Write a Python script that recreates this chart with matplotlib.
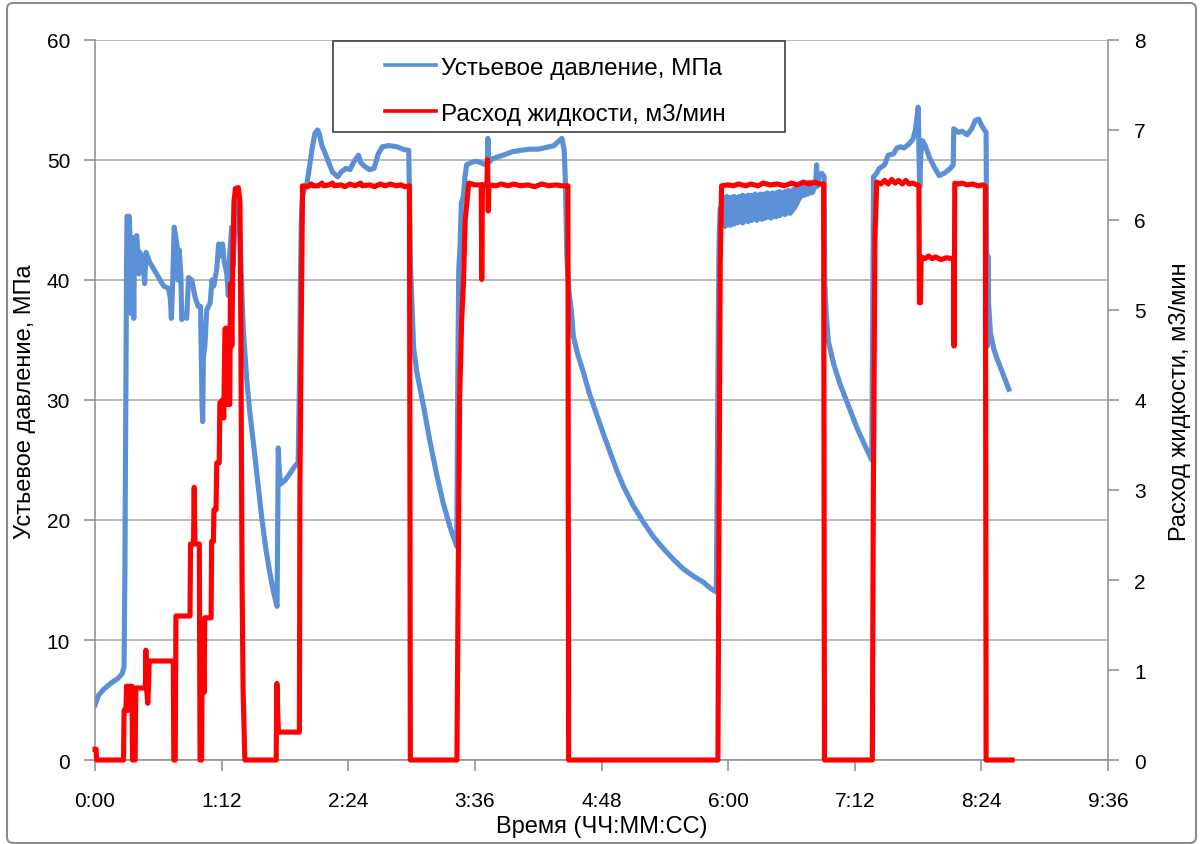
import matplotlib.pyplot as plt
import numpy as np
from matplotlib.patches import Rectangle, FancyBboxPatch
from matplotlib.lines import Line2D

plt.rcParams['font.family'] = ['Liberation Sans', 'DejaVu Sans']
plt.rcParams['path.simplify'] = False

# --- data (time in minutes) ---
# wellhead pressure, MPa
p_time = [0, 2, 5, 9, 13, 15.5, 16.5, 17.0, 17.3, 17.6, 17.9, 18.2, 19.5, 20.2, 20.6, 21.0,
          21.5, 22.0, 22.5, 23.7, 24.5, 25.0, 25.5, 27.5, 28.2, 29.0, 31, 35, 39, 41.7,
          42.8, 43.4, 44.2, 45.0, 46.5, 47.2, 47.8, 48.8, 49.3, 50.5, 52.1, 53.2, 55, 57,
          58.7, 60, 60.8, 61.2, 61.6, 62.5, 63.5, 65.5, 66.5, 67.5, 69.2, 70.3, 71.0, 72.5,
          73.5, 74.9, 75.8, 76.6, 77.7, 78.5, 79.4, 80.5, 81.5, 82.5, 83.5, 84.3, 86.2, 88,
          90, 92.5, 94.8, 97, 99.5, 101.5, 103.5, 103.9, 104.2, 104.6, 105.5, 108, 110,
          113.7, 115.5, 116.3, 116.8, 117.3, 118, 119, 120.5, 122, 123.5, 125, 126.5, 127.5,
          129, 131, 132.3, 135, 138, 140, 142.7, 145, 147, 149.8, 151, 153, 156, 158.7, 161,
          163.4, 167, 171.8, 175, 178.4, 179.0, 179.3, 180.2, 181.2, 183, 186.9, 190.5,
          194.4, 198, 201.9, 204, 205.7, 206.2, 206.8, 207.6, 208.3, 209.5, 210.3, 211.3,
          214, 216.5, 219, 222, 223.0, 223.4, 223.9, 226, 230, 234, 237.6, 242, 247, 252,
          258.3, 261, 263.9, 265.5, 266.8, 267.5, 268.3, 269.5, 270.8, 272, 274.5, 277.7,
          281, 285, 289, 293, 296.5, 300.5, 306, 311.9, 317.5, 323.3, 329, 334.7, 340.5,
          346.1, 350, 353.3, 353.9, 354.4, 354.9, 355.5,
          408.5, 409.8, 410.3, 410.8, 411.6, 413.2, 414.6, 415.0, 415.8, 417, 420, 423.7,
          428.5, 433.2, 437.5, 441.7, 442.2, 442.7, 444, 446, 449, 451, 454, 456, 458,
          460, 462.6, 465, 466.5, 468.1, 468.6, 469.0, 469.6, 470.5, 472.1, 474.5, 476.9,
          480, 483, 486.4, 488.0, 488.3, 491, 493, 495.9, 498.5, 500.6, 502.5, 504.4,
          506.7, 507.1, 507.4, 507.7, 508.1, 509.2, 511, 513, 516.5, 519.6]
p_val = [4.6, 5.4, 5.9, 6.4, 6.8, 7.2, 7.8, 16, 25, 32, 41, 45.3, 45.3, 42, 37.2, 43.5,
         43.2, 36.8, 43.5, 43.7, 42.0, 40.5, 42.3, 41.5, 39.7, 42.3, 41.5, 40.5, 39.5, 39.3,
         38.5, 36.8, 40, 44.4, 43.0, 40, 42.5, 40.5, 36.7, 37.2, 36.8, 40.2, 40, 38.5,
         37.8, 37.8, 30, 28.2, 33.5, 34.6, 37.5, 38.1, 40.0, 39.5, 40.9, 43, 42.0, 43.0,
         41.5, 40.6, 38.7, 42.2, 44.4, 41.2, 44.0, 46.0, 46.5, 43.5, 39.0, 35.9, 31.8, 29,
         26.5, 23.2, 20.2, 17.7, 15.5, 14, 12.8, 20, 26.0, 24.5, 23.0, 23.3, 23.7,
         24.5, 24.8, 32, 40, 45, 47, 47.5, 48, 49.5, 51, 52.2, 52.5, 52.2,
         51.2, 50.5, 50, 49, 48.6, 49, 49.3, 49.2, 49.8, 50.4, 49.8, 49.5, 49.2, 49.3, 50.5,
         51.1, 51.2, 51.1, 50.9, 50.8, 45, 41.5, 38, 34.3, 32.3, 29.4, 26.5,
         23.7, 21.4, 19.4, 18.5, 17.8, 30, 40.7, 43, 46.4, 47, 48.5, 49.6,
         49.8, 49.9, 49.8, 49.6, 49.7, 51.8, 49.8, 50.1, 50.3, 50.5, 50.7, 50.8, 50.9, 50.9,
         51.1, 51.2, 51.6, 51.8, 50.8, 48, 42, 39, 37.5, 35.3, 33.8, 32.3,
         30.6, 28.9, 27.2, 25.6, 24.2, 22.8, 21.2, 19.8, 18.6, 17.6, 16.7, 15.9, 15.3,
         14.8, 14.3, 14.0, 25, 36, 43.5, 46.0,
         47.6, 47.8, 49.6, 47.8, 48.6, 48.9, 48.6, 39.6, 37, 34.9, 33, 31.3,
         29.5, 27.7, 26.3, 25.0, 36, 48.6, 48.8, 49.3, 49.6, 50.4, 50.5, 51.0, 51.1,
         51.0, 51.3, 51.7, 52.5, 54.4, 50, 47.8, 50.5, 51.6, 51.2, 50.2, 49.5,
         48.7, 48.9, 49.3, 49.6, 52.6, 52.3, 52.4, 52.1, 52.6, 53.3, 53.4, 52.8,
         52.3, 40, 34.5, 42, 38, 35.6, 34.3, 33.4, 32.1, 30.9]

# pressure oscillated fast during the 6:00-6:50 stage: upper / lower edges of that ribbon
band_time = [356.0, 357, 358, 359, 360, 361, 362, 363, 364, 365, 366, 367, 368, 369, 370,
             371, 372, 373, 374, 375, 376, 377, 378, 379, 380, 381, 382, 383, 384, 385, 386,
             387, 388, 389, 390, 391, 392, 393, 394, 395, 396, 397, 398, 399, 400, 401, 402,
             403, 404, 405, 406, 407, 408.0]
band_high = [46.6, 46.9, 46.7, 47.0, 46.8, 46.9, 46.7, 47.0, 46.9, 46.8, 47.0, 46.9, 47.1,
             46.8, 47.0, 47.1, 46.9, 47.1, 47.0, 47.2, 47.0, 47.1, 47.2, 47.0, 47.2, 47.1,
             47.3, 47.1, 47.2, 47.3, 47.1, 47.3, 47.2, 47.4, 47.2, 47.3, 47.4, 47.3, 47.5,
             47.3, 47.4, 47.6, 47.4, 47.8, 47.6, 47.9, 48.0, 47.8, 48.1, 48.0, 48.2, 48.0,
             48.1]
band_low = [44.6, 44.8, 44.5, 44.7, 44.9, 44.6, 44.8, 44.7, 45.0, 44.8, 44.9, 45.1, 44.8,
            45.0, 45.2, 44.9, 45.1, 45.0, 45.2, 45.3, 45.0, 45.2, 45.4, 45.1, 45.3, 45.2,
            45.4, 45.5, 45.2, 45.4, 45.6, 45.3, 45.5, 45.4, 45.6, 45.7, 45.5, 45.6, 45.8,
            45.6, 45.8, 46.0, 46.2, 46.5, 46.8, 47.0, 47.2, 47.1, 47.3, 47.2, 47.4, 47.3,
            47.4]

# fluid flow rate, m3/min
f_time = [0, 0.6, 0.9, 16.2, 16.5, 17.6, 17.9, 18.6, 19.2, 19.8, 20.4, 21.0, 21.3, 22.8,
          23.2, 28.6, 28.9, 29.3, 30.0, 30.4, 30.8, 44.5, 44.8, 45.6, 46.0, 54.0, 54.3,
          56.0, 56.4, 56.8, 59.3, 59.7, 60.6, 61.0, 62.0, 62.4, 66.0, 66.3, 67.3, 67.6,
          68.8, 69.2, 70.6, 71.0, 72.5, 73.2, 73.9, 74.6, 75.1, 76.6, 77.0, 77.8, 78.4,
          79.0, 79.8, 81.5, 82.4, 82.9, 83.6, 84.2, 85.2, 103.0, 103.4, 103.9, 104.3,
          116.2, 116.5, 117.3, 118.0, 121, 123, 124, 127, 129, 130, 133, 135, 136, 140,
          142, 145, 148, 151, 152, 156, 159, 162, 165, 168, 171, 174, 176, 178.8, 179.3,
          205.8, 206.5, 207.3, 208.5, 209.5, 210.5, 212.5, 216, 219.6, 219.9, 220.3, 222.8,
          223.2, 223.6, 224.0, 228, 231, 235, 238, 242, 246, 250, 254, 258, 262, 265,
          268.9, 269.3, 354.2, 354.8, 355.5, 356.3, 360, 363, 366, 370, 373, 377, 380,
          384, 388, 392, 396, 399, 403, 406, 409, 412, 414.3, 414.8, 442.0, 442.6, 443.5,
          444.5, 447, 449, 451, 453, 455, 457, 459, 461, 463, 465, 468.5, 468.8, 469.3,
          469.8, 472, 474, 476, 478, 481, 484, 488.2, 488.5, 488.9, 491, 493, 496, 499,
          502, 505, 506.3, 506.7, 521.5]
f_val = [0.12, 0.12, 0, 0, 0.55, 0.57, 0.82, 0.55, 0.82, 0.6, 0.82, 0.82, 0, 0,
         0.8, 0.8, 1.22, 0.8, 0.63, 0.82, 1.1, 1.1, 0, 0, 1.6, 1.6, 2.4,
         2.4, 3.03, 2.4, 2.4, 0, 0, 1.55, 0.75, 1.58, 1.58, 2.43, 2.43, 2.78,
         2.78, 3.3, 3.3, 3.97, 4.0, 3.8, 4.79, 4.8, 3.95, 3.95, 5.29, 4.6, 5.6,
         6.2, 6.35, 6.36, 6.2, 4.8, 2.0, 0.77, 0, 0, 0.85, 0.5, 0.31,
         0.31, 3.0, 4.9, 6.38, 6.37, 6.40, 6.38, 6.38, 6.41, 6.38, 6.39, 6.41, 6.38, 6.39,
         6.37, 6.40, 6.38, 6.41, 6.38, 6.39, 6.37, 6.40, 6.38, 6.40, 6.38, 6.39, 6.37, 6.38, 0,
         0, 2.0, 4.0, 4.9, 5.3, 6.0, 6.41, 6.39, 6.39, 5.34, 6.39, 6.38,
         6.67, 6.1, 6.39, 6.38, 6.40, 6.38, 6.40, 6.38, 6.39, 6.37, 6.40, 6.38, 6.39, 6.38,
         6.38, 0, 0, 2.6, 5.5, 6.38, 6.39, 6.38, 6.40, 6.38, 6.40, 6.38, 6.41,
         6.39, 6.40, 6.38, 6.41, 6.39, 6.42, 6.40, 6.42, 6.40, 6.4, 0, 0, 3.0, 5.8,
         6.42, 6.40, 6.44, 6.40, 6.45, 6.41, 6.44, 6.40, 6.44, 6.40, 6.41, 6.38, 5.08, 5.08,
         5.59, 5.57, 5.60, 5.57, 5.59, 5.56, 5.58, 5.57, 4.6, 6.41, 6.40, 6.41, 6.39, 6.40,
         6.38, 6.39, 6.37, 0, 0]

x_ticks = [0, 72, 144, 216, 288, 360, 432, 504, 576]
x_labels = [f"{m // 60}:{m % 60:02d}" for m in x_ticks]

blue = '#5b8fd6'
red = '#ff0000'
grey = '#8c8c8c'

fig = plt.figure(figsize=(12, 8.45), dpi=100)
ax = fig.add_axes([0.0792, 0.0994, 0.8441, 0.8521])
ax2 = ax.twinx()

ax.fill_between(band_time, band_low, band_high, facecolor=blue, edgecolor=blue,
                lw=3.7, joinstyle='round')
ax.plot(p_time, p_val, color=blue, lw=3.7, solid_joinstyle='round')
ax2.plot(f_time, f_val, color=red, lw=3.7, solid_joinstyle='round', clip_on=False)

ax.set_xlim(0, 576)
ax.set_ylim(0, 60)
ax2.set_ylim(0, 8)
ax.set_xticks(x_ticks)
ax.set_xticklabels(x_labels)
ax.set_yticks(range(0, 61, 10))
ax2.set_yticks(range(0, 9))

ax.yaxis.grid(True, color='#a6a6a6', lw=1.1)
ax.set_axisbelow(True)

for s in ['top', 'right']:
    ax.spines[s].set_visible(False)
for s in ['top', 'left', 'bottom']:
    ax2.spines[s].set_visible(False)
for sp in [ax.spines['left'], ax.spines['bottom'], ax2.spines['right']]:
    sp.set_color(grey)
    sp.set_linewidth(1.1)

ax.tick_params(axis='x', direction='out', length=8, width=1.1, color=grey,
               labelsize=15, pad=14)
ax.tick_params(axis='y', direction='out', length=8, width=1.1, color=grey,
               labelsize=15, pad=10)
ax2.tick_params(axis='y', direction='out', length=8, width=1.1, color=grey,
                labelsize=15, pad=11)

fig.text(0.021, 0.525, 'Устьевое давление, МПа', rotation=90, ha='center', va='center',
         fontsize=17)
fig.text(0.983, 0.525, 'Расход жидкости, м3/мин', rotation=90, ha='center', va='center',
         fontsize=17)
fig.text(0.5017, 0.021, 'Время (ЧЧ:ММ:СС)', ha='center', va='center', fontsize=17)

# legend box
box = Rectangle((0.2775, 0.8426), 0.3767, 0.1077, transform=fig.transFigure,
                facecolor='white', edgecolor='#404040', lw=1.2, zorder=5)
fig.patches.append(box)
handles = [Line2D([], [], color=blue, lw=2.6), Line2D([], [], color=red, lw=2.6)]
leg = fig.legend(handles, ['Устьевое давление, МПа', 'Расход жидкости, м3/мин'],
                 loc='center', bbox_to_anchor=(0.4625, 0.8915), frameon=False,
                 fontsize=17.5, handlelength=2.1, handletextpad=0.2, labelspacing=1.0)
leg.set_zorder(6)

# outer chart border
border = FancyBboxPatch((0.07, 0.01), 11.89, 8.4, boxstyle='round,pad=0,rounding_size=0.06',
                        transform=fig.dpi_scale_trans, fill=False, edgecolor=grey, lw=1.5)
fig.patches.append(border)

fig.savefig('out.png', dpi=100)
